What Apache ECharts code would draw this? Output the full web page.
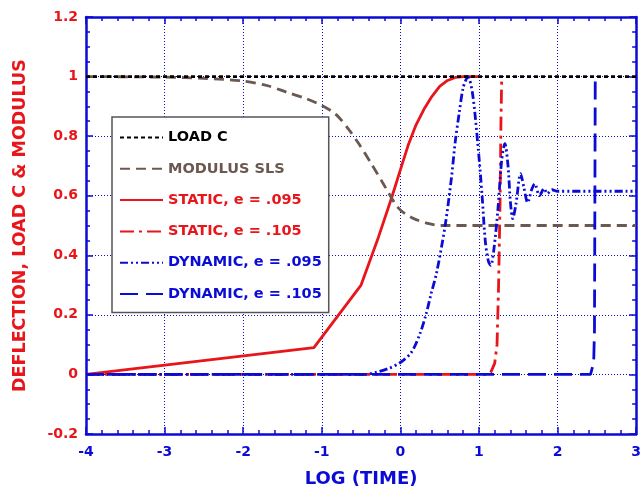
<!DOCTYPE html>
<html>
<head>
<meta charset="utf-8">
<script src="https://cdn.jsdelivr.net/npm/echarts@6/dist/echarts.min.js"></script>
<style>
  html, body { margin: 0; padding: 0; background: #fff; }
  #chart { width: 644px; height: 493px; }
</style>
</head>
<body>
<div id="chart"></div>
<script>
// values (x = log time)
const loadX = [-4, 3];
const loadY = [1, 1];

const modulusX = [-4, -3, -2.5, -2, -1.7, -1.45, -1.2, -1.0, -0.82, -0.65, -0.53, -0.37, -0.19, -0.03, 0.14, 0.35, 0.52, 3];
const modulusY = [1, 0.998, 0.994, 0.985, 0.97, 0.948, 0.926, 0.903, 0.873, 0.82, 0.775, 0.708, 0.628, 0.56, 0.527, 0.507, 0.5, 0.5];

const static095X = [-4, -1.1, -0.5, -0.28, -0.11, 0.01, 0.1, 0.2, 0.3, 0.4, 0.5, 0.6, 0.7, 0.8, 1.0];
const static095Y = [0, 0.09, 0.30, 0.46, 0.594, 0.695, 0.77, 0.838, 0.89, 0.933, 0.967, 0.987, 0.997, 1.0, 1.0];

const static105X = [-4, 1.1, 1.15, 1.2, 1.23, 1.25, 1.27, 1.28, 1.29];
const static105Y = [0, 0, 0.007, 0.037, 0.1, 0.3, 0.6, 0.85, 1];

const dyn095X = [-4, -0.45, -0.3, -0.15, 0, 0.14, 0.25, 0.33, 0.39, 0.46, 0.57, 0.65, 0.7, 0.75, 0.8, 0.86, 0.92, 0.99, 1.04, 1.08, 1.12, 1.15, 1.19, 1.24, 1.29, 1.33, 1.37, 1.4, 1.43, 1.47, 1.53, 1.57, 1.62, 1.67, 1.71, 1.77, 1.83, 1.87, 1.93, 2.0, 3];
const dyn095Y = [0, 0, 0.008, 0.02, 0.04, 0.074, 0.137, 0.205, 0.27, 0.34, 0.5, 0.66, 0.785, 0.88, 0.963, 1.0, 0.94, 0.76, 0.6, 0.45, 0.38, 0.366, 0.42, 0.55, 0.72, 0.775, 0.7, 0.58, 0.523, 0.57, 0.674, 0.63, 0.577, 0.62, 0.64, 0.6, 0.624, 0.607, 0.62, 0.615, 0.615];

const dyn105X = [-4, 2.42, 2.46, 2.47, 2.48];
const dyn105Y = [0, 0, 0.04, 0.15, 1];

const xTicks = { min: -4, max: 3, interval: 1 };
const yTicks = { min: -0.2, max: 1.2, interval: 0.2 };

const RED = '#e8151b';
const BLUE = '#0b0bd6';
const BROWN = '#6b5850';
const FONT = 'DejaVu Sans';

const pairs = (xs, ys) => xs.map((x, i) => [x, ys[i]]);

const chart = echarts.init(document.getElementById('chart'));

const axisBase = {
  type: 'value',
  axisLine: { show: true, onZero: false, lineStyle: { color: BLUE, width: 2.5 } },
  axisTick: { show: true, inside: true, length: 7, lineStyle: { color: BLUE, width: 1.5 } },
  minorTick: { show: true, length: 4, lineStyle: { color: BLUE, width: 1.5 } },
  splitLine: { show: false }
};

const xAxisMain = Object.assign({}, axisBase, xTicks, {
  position: 'bottom',
  name: 'LOG (TIME)',
  nameLocation: 'middle',
  nameGap: 36,
  nameTextStyle: { color: BLUE, fontFamily: FONT, fontWeight: 'bold', fontSize: 18 },
  axisLabel: { color: BLUE, fontFamily: FONT, fontWeight: 'bold', fontSize: 14, margin: 11 },
  minorTick: Object.assign({}, axisBase.minorTick, { splitNumber: 5 }),
  splitLine: { show: true, lineStyle: { color: BLUE, width: 1, type: [1, 2] } }
});

const xAxisTop = Object.assign({}, axisBase, xTicks, {
  position: 'top',
  axisLabel: { show: false },
  minorTick: Object.assign({}, axisBase.minorTick, { splitNumber: 5 })
});

const yAxisMain = Object.assign({}, axisBase, yTicks, {
  position: 'left',
  name: 'DEFLECTION, LOAD C & MODULUS',
  nameLocation: 'middle',
  nameGap: 57,
  nameTextStyle: { color: RED, fontFamily: FONT, fontWeight: 'bold', fontSize: 17.5 },
  axisLabel: { color: RED, fontFamily: FONT, fontWeight: 'bold', fontSize: 14, margin: 8 },
  minorTick: Object.assign({}, axisBase.minorTick, { splitNumber: 4 }),
  splitLine: { show: true, lineStyle: { color: BLUE, width: 1, type: [1, 2] } }
});

const yAxisRight = Object.assign({}, axisBase, yTicks, {
  position: 'right',
  axisLabel: { show: false },
  minorTick: Object.assign({}, axisBase.minorTick, { splitNumber: 4 })
});

function line(name, data, color, dash, z, smooth) {
  return {
    name: name,
    type: 'line',
    data: data,
    symbol: 'none',
    smooth: smooth || false,
    z: z,
    lineStyle: { color: color, width: 2.8, type: dash },
    itemStyle: { color: color },
    emphasis: { disabled: true }
  };
}

const option = {
  animation: false,
  grid: { left: 86, right: 6, top: 17, bottom: 59 },
  xAxis: [xAxisMain, xAxisTop],
  yAxis: [yAxisMain, yAxisRight],
  legend: {
    orient: 'vertical',
    left: 112,
    top: 117,
    padding: [13, 7, 11, 7],
    itemWidth: 43,
    itemHeight: 14,
    itemGap: 16.3,
    selectedMode: false,
    backgroundColor: '#fff',
    borderColor: '#555',
    borderWidth: 1.5,
    itemStyle: { opacity: 0 },
    textStyle: { fontFamily: FONT, fontWeight: 'bold', fontSize: 14.5 },
    data: [
      { name: 'LOAD C', textStyle: { color: '#000' } },
      { name: 'MODULUS SLS', textStyle: { color: BROWN } },
      { name: 'STATIC, e = .095', textStyle: { color: RED } },
      { name: 'STATIC, e = .105', textStyle: { color: RED } },
      { name: 'DYNAMIC, e = .095', textStyle: { color: BLUE } },
      { name: 'DYNAMIC, e = .105', textStyle: { color: BLUE } }
    ]
  },
  series: [
    line('STATIC, e = .095', pairs(static095X, static095Y), RED, 'solid', 2),
    line('STATIC, e = .105', pairs(static105X, static105Y), RED, [14, 5, 3, 5], 3),
    line('MODULUS SLS', pairs(modulusX, modulusY), BROWN, [10, 6], 4, 0.3),
    line('DYNAMIC, e = .105', pairs(dyn105X, dyn105Y), BLUE, [18, 8], 5),
    line('DYNAMIC, e = .095', pairs(dyn095X, dyn095Y), BLUE, [8, 3, 2, 3, 2, 3], 6, 0.3),
    line('LOAD C', pairs(loadX, loadY), '#000', [4, 3], 7)
  ]
};

chart.setOption(option);
</script>
</body>
</html>
